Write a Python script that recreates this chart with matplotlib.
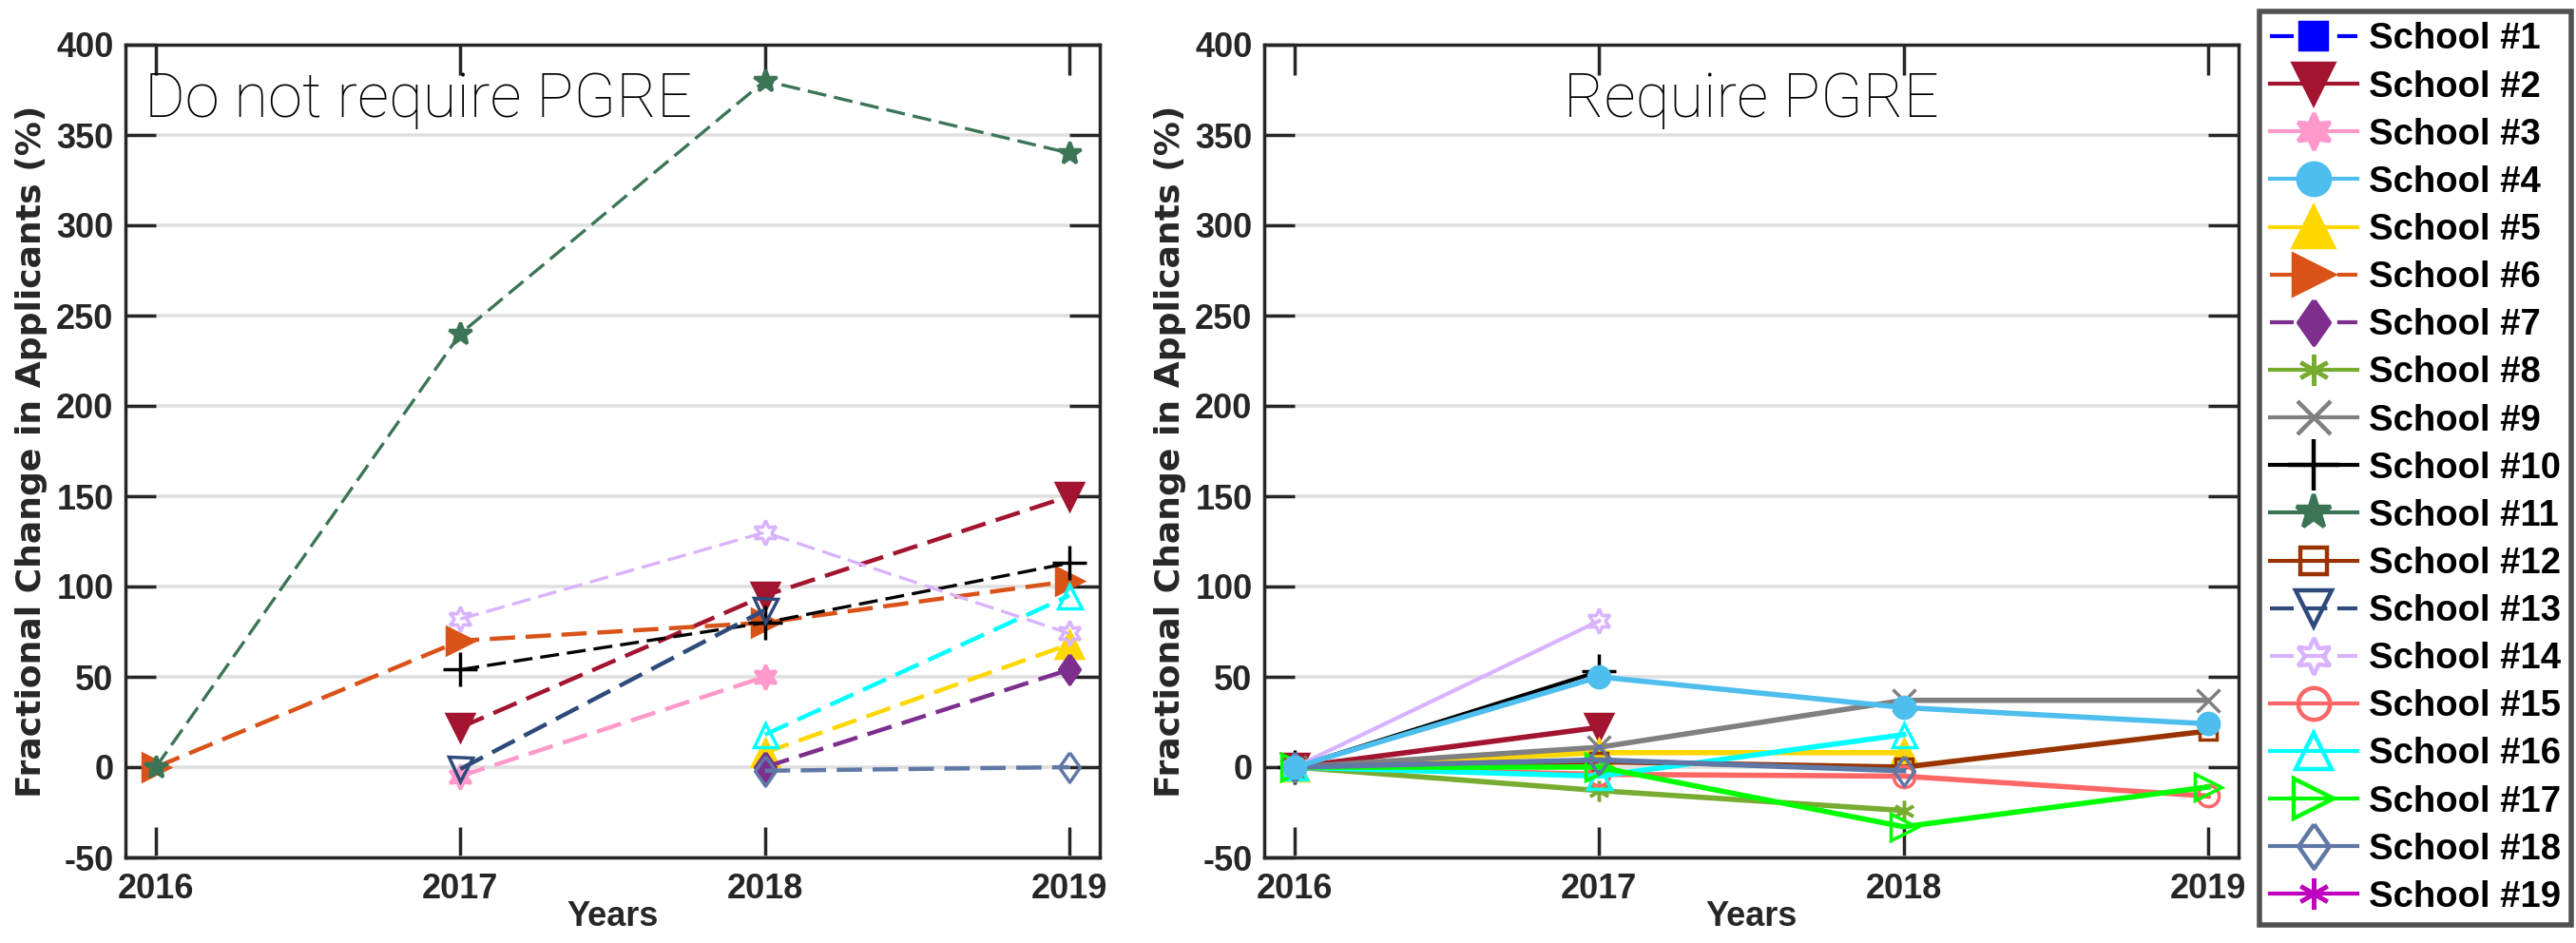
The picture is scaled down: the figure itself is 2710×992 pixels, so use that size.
import numpy as np
import matplotlib.pyplot as plt
from matplotlib.lines import Line2D

plt.rcParams['font.family'] = ['Liberation Sans', 'DejaVu Sans']
plt.rcParams['axes.unicode_minus'] = False

nan = np.nan
years = [2016, 2017, 2018, 2019]
schools = ['School #%d' % i for i in range(1, 20)]

colors = ['#0000ff', '#a2142f', '#ff99cc', '#4dbeee', '#ffd700', '#d95319',
          '#7e2f8e', '#77ac30', '#808080', '#000000', '#3b7556', '#993300',
          '#2e4a7a', '#d9b3ff', '#ff6666', '#00ffff', '#00ff00', '#6078a6',
          '#bf00bf']
diamond = [(0, 1), (0.7, 0), (0, -1), (-0.7, 0), (0, 1)]
markers = ['s', 'v', (6, 1, 0), 'o', '^', '>', diamond, (6, 2, 0), 'x', '+',
           '*', 's', 'v', (6, 1, 0), 'o', '^', '>', diamond, (6, 2, 0)]
msize = [0.68, 1.0, 0.93, 0.8, 1.0, 1.0, 1.12, 0.78, 0.84, 1.3,
         0.9, 0.68, 0.9, 0.93, 0.8, 0.9, 1.0, 1.12, 0.78]
filled = [True] * 11 + [False] * 7 + [True]
legend_dashed = [1, 6, 7, 13, 14]

# schools that do not require the PGRE (% change)
np_s2 = [nan, 22, 95, 150]
np_s3 = [nan, -5, 50, nan]
np_s5 = [nan, nan, 8, 68]
np_s6 = [0, 70, 80, 103]
np_s7 = [nan, nan, 0, 54]
np_s10 = [nan, 54, 80, 113]
np_s11 = [0, 240, 380, 340]
np_s13 = [nan, -1, 87, nan]
np_s14 = [nan, 82, 130, 74]
np_s16 = [nan, nan, 18, 95]
np_s18 = [nan, nan, -2, 0]

# schools that require the PGRE
rq_s1 = [0, nan, nan, nan]
rq_s2 = [0, 22, nan, nan]
rq_s5 = [0, 8, 8, nan]
rq_s8 = [0, -13, -24, nan]
rq_s9 = [0, 11, 37, 37]
rq_s10 = [0, 53, nan, nan]
rq_s12 = [0, 3, 0, 20]
rq_s14 = [0, 81, nan, nan]
rq_s15 = [0, -4, -5, -16]
rq_s16 = [0, -5, 18, nan]
rq_s17 = [0, 0, -33, -11]
rq_s18 = [0, 4, -2, nan]
rq_s19 = [0, nan, nan, nan]
rq_s4 = [0, 50, 33, 24]

no_pgre = {2: np_s2, 3: np_s3, 5: np_s5, 6: np_s6, 7: np_s7, 10: np_s10,
           11: np_s11, 13: np_s13, 14: np_s14, 16: np_s16, 18: np_s18}
req_pgre = {1: rq_s1, 2: rq_s2, 5: rq_s5, 8: rq_s8, 9: rq_s9, 10: rq_s10,
            12: rq_s12, 14: rq_s14, 15: rq_s15, 16: rq_s16, 17: rq_s17,
            18: rq_s18, 19: rq_s19, 4: rq_s4}

dash = (0, (6, 2.5))
ink = '#262626'
W, H = 2710, 992
fig = plt.figure(figsize=(W / 100, H / 100), dpi=100)
ax1 = fig.add_axes([132 / W, 1 - 902 / H, 1025 / W, 855 / H])
ax2 = fig.add_axes([1330 / W, 1 - 902 / H, 1025 / W, 855 / H])


def draw(ax, data, ls, lw):
    for k, vals in data.items():
        i = k - 1
        w = lw
        if k in (11, 14, 10):
            w = lw * 0.75
        ax.plot(years, vals, linestyle=ls, lw=w, color=colors[i],
                marker=markers[i], ms=20 * msize[i],
                mfc=colors[i] if filled[i] else 'none',
                mec=colors[i], mew=2.5, zorder=3)


draw(ax1, no_pgre, dash, 3.2)
draw(ax2, req_pgre, '-', 4)

for ax in (ax1, ax2):
    ax.set_xlim(2015.9, 2019.1)
    ax.set_ylim(-50, 400)
    ax.set_xticks(years)
    ax.set_yticks(range(-50, 401, 50))
    ax.grid(axis='y', color='#e0e0e0', lw=2.6, zorder=0)
    ax.set_axisbelow(True)
    for s in ax.spines.values():
        s.set_linewidth(2.5)
        s.set_color(ink)
    ax.tick_params(axis='both', direction='in', top=True, right=True,
                   length=23, width=2.5, color=ink, labelsize=26,
                   labelcolor=ink)
    ax.tick_params(axis='y', pad=9)
    ax.tick_params(axis='x', pad=11.5)
    for t in ax.get_xticklabels() + ax.get_yticklabels():
        t.set_fontweight('bold')
    ax.set_xlabel('Years', fontsize=26, fontweight='bold', color=ink,
                  labelpad=-4.3)
    ax.set_ylabel('Fractional Change in Applicants (%)', family='DejaVu Sans',
                  fontsize=26, fontweight='bold', color=ink)
    ax.yaxis.set_label_coords(-0.08, 0.5)

title_font = dict(family=['Roboto', 'Liberation Sans'], weight='light',
                  fontsize=47, va='baseline', color='black')
ax1.text(0.02, 0.911, 'Do not require PGRE', transform=ax1.transAxes,
         ha='left', **title_font)
ax2.text(0.5, 0.911, 'Require PGRE', transform=ax2.transAxes,
         ha='center', **title_font)

handles = []
for i in range(19):
    handles.append(Line2D([], [], color=colors[i],
                          linestyle=dash if (i + 1) in legend_dashed else '-',
                          lw=3, marker=markers[i], ms=30 * msize[i],
                          mfc=colors[i] if filled[i] else 'none',
                          mec=colors[i], mew=3.2))
leg = fig.legend(handles, schools, loc='upper left',
                 bbox_to_anchor=(2377 / W, 1 - 12 / H),
                 bbox_transform=fig.transFigure, borderaxespad=0,
                 frameon=True, fancybox=False, edgecolor=ink,
                 handlelength=2.4, handletextpad=0.3, labelspacing=0.37,
                 borderpad=0.3,
                 prop=dict(family='Liberation Sans', weight='bold', size=27.5))
leg.get_frame().set_linewidth(4)

fig.savefig('out.png', dpi=100)
